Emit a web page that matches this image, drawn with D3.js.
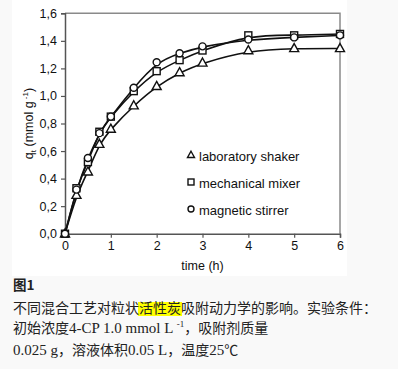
<!DOCTYPE html>
<html><head><meta charset="utf-8">
<script src="https://cdn.jsdelivr.net/npm/d3@7"></script>
<style>
html,body{margin:0;padding:0;background:#f9f9f9;}
svg{display:block;}
</style></head>
<body>
<svg id="c" width="398" height="369"></svg>
<script>
const times = [0, 0.25, 0.5, 0.75, 1, 1.5, 2, 2.5, 3, 4, 5, 6];
const shaker = [0, 0.28, 0.45, 0.65, 0.76, 0.93, 1.07, 1.17, 1.24, 1.33, 1.345, 1.345];
const mixer  = [0, 0.33, 0.52, 0.74, 0.85, 1.035, 1.18, 1.26, 1.33, 1.44, 1.44, 1.45];
const stirrer= [0, 0.32, 0.55, 0.73, 0.85, 1.06, 1.245, 1.31, 1.36, 1.41, 1.425, 1.44];
const seriesNames = ["laboratory shaker", "mechanical mixer", "magnetic stirrer"];
const xTicks = [0, 1, 2, 3, 4, 5, 6];
const yTicks = [0, 0.2, 0.4, 0.6, 0.8, 1.0, 1.2, 1.4, 1.6];
const xTitle = "time (h)";
const captionTitle = "图1";

const svg = d3.select("#c");
svg.append("rect").attr("x", 12).attr("y", 0).attr("width", 335).attr("height", 276).attr("fill", "#fff");

const L = 65, R = 340, T = 13.3, B = 233.7;
const x = d3.scaleLinear().domain([0, 6]).range([L, R]);
const y = d3.scaleLinear().domain([0, 1.6]).range([B, T]);
const fmt = d => d3.format(".1f")(d).replace(".", ",");

const font = "'Liberation Sans', Arial, sans-serif";

// frame
svg.append("path").attr("d", `M${L},${T}H${R}V${B}`).attr("fill", "none").attr("stroke", "#8a8a8a").attr("stroke-width", 1.5);

const gx = svg.append("g").attr("transform", `translate(0,${B})`)
  .call(d3.axisBottom(x).tickValues(xTicks).tickSize(4).tickPadding(3).tickFormat(d3.format("d")));
const gy = svg.append("g").attr("transform", `translate(${L},0)`)
  .call(d3.axisLeft(y).tickValues(yTicks).tickSize(4).tickPadding(4).tickFormat(fmt));
[gx, gy].forEach(g => {
  g.select(".domain").attr("stroke", "#555").attr("stroke-width", 1.5);
  g.selectAll(".tick line").attr("stroke", "#555").attr("stroke-width", 1.2);
  g.selectAll("text").attr("font-family", font).attr("font-size", 12.5).attr("fill", "#111");
});

svg.append("text").attr("x", (L + R) / 2).attr("y", 270).attr("text-anchor", "middle")
  .attr("font-family", font).attr("font-size", 12.5).attr("fill", "#111").text(xTitle);

const yl = svg.append("text").attr("transform", `translate(33,${(T + B) / 2}) rotate(-90)`)
  .attr("text-anchor", "middle").attr("font-family", font).attr("font-size", 12.5).attr("fill", "#111");
yl.append("tspan").text("q");
yl.append("tspan").attr("font-size", 8).attr("dy", 3).text("t");
yl.append("tspan").attr("dy", -3).text(" (mmol g");
yl.append("tspan").attr("font-size", 8).attr("dy", -5).text(" -1");
yl.append("tspan").attr("dy", 5).text(")");

const line = d3.line().x((d, i) => x(times[i])).y(d => y(d)).curve(d3.curveBasis);
const datasets = [shaker, mixer, stirrer];
datasets.forEach(ds => {
  svg.append("path").attr("d", line(ds)).attr("fill", "none").attr("stroke", "#111").attr("stroke-width", 1.6);
});

function marker(g, type, cx, cy, s) {
  if (type === 0) {
    const h = s * 0.9;
    g.append("path").attr("d", `M${cx},${cy - h * 0.6}L${cx + s / 2},${cy + h * 0.4}L${cx - s / 2},${cy + h * 0.4}Z`)
      .attr("fill", "#fff").attr("stroke", "#111").attr("stroke-width", 1.4);
  } else if (type === 1) {
    g.append("rect").attr("x", cx - s / 2).attr("y", cy - s / 2).attr("width", s).attr("height", s)
      .attr("fill", "#fff").attr("stroke", "#111").attr("stroke-width", 1.4);
  } else {
    g.append("circle").attr("cx", cx).attr("cy", cy).attr("r", s / 2)
      .attr("fill", "#fff").attr("stroke", "#111").attr("stroke-width", 1.4);
  }
}
const mg = svg.append("g");
datasets.forEach((ds, k) => {
  ds.forEach((v, i) => marker(mg, k, x(times[i]), y(v), k === 0 ? 9 : 7));
});

// legend
const legY = [156, 183, 210];
seriesNames.forEach((n, k) => {
  marker(svg, k, 191, legY[k] - 1, k === 0 ? 7 : 6);
  svg.append("text").attr("x", 199).attr("y", legY[k] + 4.5).attr("font-family", font)
    .attr("font-size", 13).attr("fill", "#111").text(n);
});

// caption
const cfont = "'Noto Sans CJK SC', 'Liberation Serif', serif";
const sfont = "'Liberation Serif', 'DejaVu Serif', serif";
svg.append("rect").attr("x", 138).attr("y", 302).attr("width", 44).attr("height", 14).attr("fill", "#ffff00");
svg.append("text").attr("x", 13).attr("y", 290).attr("font-family", cfont).attr("font-weight", "bold")
  .attr("font-size", 13.5).attr("fill", "#222").text(captionTitle);
svg.append("text").attr("x", 13).attr("y", 313).attr("font-family", cfont).attr("font-size", 14)
  .attr("fill", "#222").text("不同混合工艺对粒状活性炭吸附动力学的影响。实验条件：");
const l2 = svg.append("text").attr("x", 13).attr("y", 333).attr("font-family", cfont).attr("font-size", 14).attr("fill", "#222");
l2.append("tspan").text("初始浓度");
l2.append("tspan").attr("font-family", sfont).attr("font-size", 15).text("4-CP 1.0 mmol L ");
l2.append("tspan").attr("font-size", 9).attr("dy", -6).attr("font-family", sfont).text("-1");
l2.append("tspan").attr("dy", 6).text("，吸附剂质量");
const l3 = svg.append("text").attr("x", 13).attr("y", 355).attr("font-family", cfont).attr("font-size", 14).attr("fill", "#222");
l3.append("tspan").attr("font-family", sfont).attr("font-size", 15).text("0.025 g");
l3.append("tspan").text("，溶液体积");
l3.append("tspan").attr("font-family", sfont).attr("font-size", 15).text("0.05 L");
l3.append("tspan").text("，温度");
l3.append("tspan").attr("font-family", sfont).attr("font-size", 15).text("25");
l3.append("tspan").text("℃");
</script>
</body></html>
